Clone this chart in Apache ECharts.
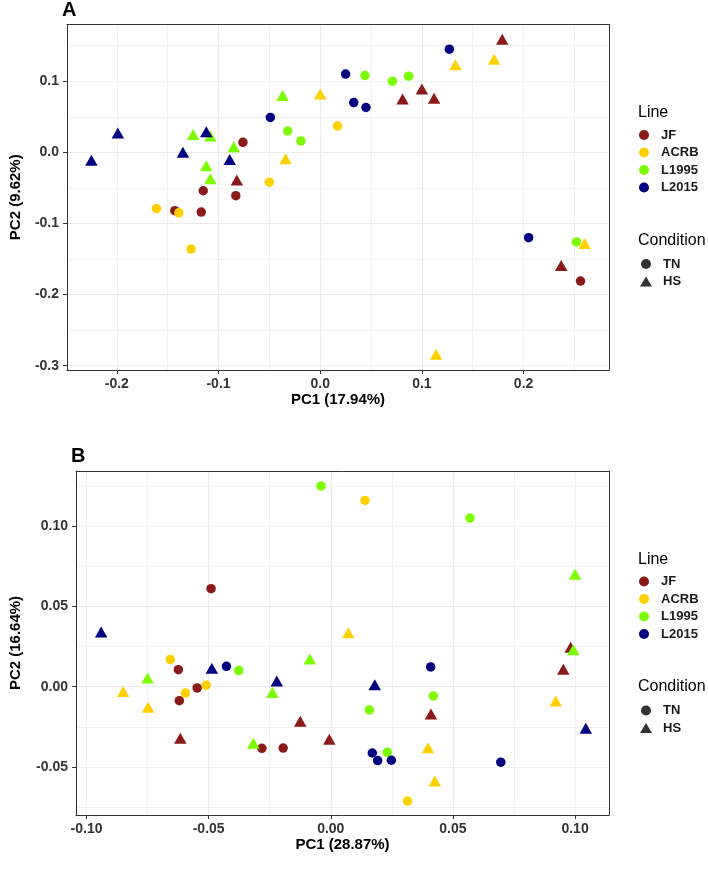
<!DOCTYPE html>
<html>
<head>
<meta charset="utf-8">
<script src="https://cdn.jsdelivr.net/npm/echarts@6/dist/echarts.min.js"></script>
<style>html,body{margin:0;padding:0;background:#fff;}#chart{width:708px;height:869px;}</style>
</head>
<body>
<div id="chart"></div>
<script>
// ---- categories ----
const lines = ['JF', 'ACRB', 'L1995', 'L2015'];
const conditions = ['TN', 'HS'];

// ---- Panel A values [PC1, PC2] ----
const A_JF_TN = [[-0.076,0.014],[-0.115,-0.054],[-0.083,-0.061],[-0.143,-0.082],[-0.117,-0.084],[0.256,-0.181]];
const A_JF_HS = [[-0.082,-0.039],[0.179,0.159],[0.100,0.089],[0.081,0.075],[0.112,0.076],[0.237,-0.159]];
const A_ACRB_TN = [[0.017,0.037],[-0.050,-0.042],[-0.161,-0.079],[-0.139,-0.085],[-0.127,-0.136]];
const A_ACRB_HS = [[0.000,0.082],[-0.034,-0.009],[0.171,0.131],[0.133,0.123],[0.260,-0.128],[0.114,-0.284]];
const A_L1995_TN = [[-0.032,0.030],[-0.019,0.016],[0.044,0.108],[0.071,0.100],[0.087,0.107],[0.252,-0.126]];
const A_L1995_HS = [[-0.037,0.080],[-0.125,0.025],[-0.108,0.023],[-0.085,0.008],[-0.112,-0.019],[-0.108,-0.037]];
const A_L2015_TN = [[0.025,0.110],[0.033,0.070],[-0.049,0.049],[0.127,0.145],[0.045,0.063],[0.205,-0.120]];
const A_L2015_HS = [[-0.199,0.027],[-0.225,-0.011],[-0.112,0.029],[-0.135,0.000],[-0.089,-0.010]];

// ---- Panel B values [PC1, PC2] ----
const B_JF_TN = [[-0.049,0.061],[-0.0624,0.0106],[-0.0547,-0.0008],[-0.062,-0.0087],[-0.0282,-0.0384],[-0.0195,-0.0382]];
const B_JF_HS = [[-0.0125,-0.0216],[-0.0006,-0.0328],[-0.0616,-0.0321],[0.0982,0.0245],[0.0952,0.0108],[0.041,-0.017]];
const B_ACRB_TN = [[0.014,0.116],[-0.0657,0.017],[-0.0595,-0.004],[-0.051,0.0009],[0.0314,-0.0712]];
const B_ACRB_HS = [[0.0072,0.0336],[-0.085,-0.003],[-0.0748,-0.0128],[0.0921,-0.0089],[0.0398,-0.038],[0.0426,-0.0587]];
const B_L1995_TN = [[-0.004,0.125],[0.057,0.105],[-0.0377,0.010],[0.042,-0.0058],[0.0158,-0.0145],[0.0231,-0.0409]];
const B_L1995_HS = [[0.100,0.070],[-0.075,0.0054],[-0.0239,-0.0037],[-0.0086,0.0172],[-0.0317,-0.0353],[0.0993,0.023]];
const B_L2015_TN = [[-0.0427,0.0127],[0.0409,0.0123],[0.017,-0.0413],[0.0192,-0.046],[0.0248,-0.0458],[0.0696,-0.047]];
const B_L2015_HS = [[-0.094,0.034],[-0.0487,0.0115],[-0.0221,0.0035],[0.018,0.0012],[0.1044,-0.0259]];

// ---- tick labels ----
const xTicksA = [-0.2, -0.1, 0, 0.1, 0.2];
const yTicksA = [-0.3, -0.2, -0.1, 0, 0.1];
const xTicksB = [-0.1, -0.05, 0, 0.05, 0.1];
const yTicksB = [-0.05, 0, 0.05, 0.1];

// ---- axis limits ----
const xRangeA = [-0.249, 0.284];
const yRangeA = [-0.306, 0.1797];
const xRangeB = [-0.1043, 0.1139];
const yRangeB = [-0.0799, 0.1343];

const axisTitles = {
  A: ['PC1 (17.94%)', 'PC2 (9.62%)'],
  B: ['PC1 (28.87%)', 'PC2 (16.64%)']
};

// ---- styles ----
const lineColors = {JF: '#8B1A1A', ACRB: '#FFD000', L1995: '#7CFC00', L2015: '#000080'};
const FONT = "'Liberation Sans', Arial, sans-serif";
const panelData = {
  A: {JF: [A_JF_TN, A_JF_HS], ACRB: [A_ACRB_TN, A_ACRB_HS], L1995: [A_L1995_TN, A_L1995_HS], L2015: [A_L2015_TN, A_L2015_HS]},
  B: {JF: [B_JF_TN, B_JF_HS], ACRB: [B_ACRB_TN, B_ACRB_HS], L1995: [B_L1995_TN, B_L1995_HS], L2015: [B_L2015_TN, B_L2015_HS]}
};

const grids = [
  {left: 62, top: 24.5, width: 547, height: 345.5},
  {left: 70.7, top: 471, width: 538.3, height: 344}
];

function labelAxisX(range, ticks, dec, name) {
  return {
    type: 'value', position: 'bottom', min: range[0], max: range[1],
    minInterval: 0.1, maxInterval: 0.1,
    name: name, nameLocation: 'middle', nameGap: 22,
    nameTextStyle: {fontFamily: FONT, fontSize: 15, fontWeight: 'bold', color: '#000'},
    axisLine: {show: true, onZero: false, lineStyle: {color: '#333', width: 1}},
    axisTick: {show: true, length: 4, customValues: ticks, lineStyle: {color: '#333', width: 1}},
    axisLabel: {show: true, customValues: ticks, margin: 7, fontFamily: FONT, fontSize: 14, fontWeight: 'bold', color: '#333',
      formatter: v => Number(v).toFixed(dec)},
    splitLine: {show: true, showMinLine: false, showMaxLine: false, lineStyle: {color: '#EBEBEB', width: 1.2}}
  };
}
function labelAxisY(range, ticks, dec, name, gap) {
  return {
    type: 'value', position: 'left', min: range[0], max: range[1],
    minInterval: 0.1, maxInterval: 0.1,
    name: name, nameLocation: 'middle', nameGap: gap,
    nameTextStyle: {fontFamily: FONT, fontSize: 15, fontWeight: 'bold', color: '#000'},
    axisLine: {show: true, onZero: false, lineStyle: {color: '#333', width: 1}},
    axisTick: {show: true, length: 4, customValues: ticks, lineStyle: {color: '#333', width: 1}},
    axisLabel: {show: true, customValues: ticks, margin: 8, fontFamily: FONT, fontSize: 14, fontWeight: 'bold', color: '#333',
      formatter: v => Number(v).toFixed(dec)},
    splitLine: {show: true, showMinLine: false, showMaxLine: false, lineStyle: {color: '#EBEBEB', width: 1.2}}
  };
}
function gridAxis(pos, range, step) {
  return {
    type: 'value', position: pos, min: range[0], max: range[1],
    minInterval: step, maxInterval: step,
    axisLine: {show: true, onZero: false, lineStyle: {color: '#333', width: 1}},
    axisTick: {show: false}, axisLabel: {show: false},
    splitLine: {show: true, showMinLine: false, showMaxLine: false, lineStyle: {color: '#EBEBEB', width: 0.7}}
  };
}

const xAxes = [
  labelAxisX(xRangeA, xTicksA, 1, axisTitles.A[0]),
  gridAxis('top', xRangeA, 0.05),
  labelAxisX(xRangeB, xTicksB, 2, axisTitles.B[0]),
  gridAxis('top', xRangeB, 0.025)
];
xAxes[0].gridIndex = 0; xAxes[1].gridIndex = 0; xAxes[2].gridIndex = 1; xAxes[3].gridIndex = 1;
const yAxes = [
  labelAxisY(yRangeA, yTicksA, 1, axisTitles.A[1], 44),
  gridAxis('right', yRangeA, 0.05),
  labelAxisY(yRangeB, yTicksB, 2, axisTitles.B[1], 53),
  gridAxis('right', yRangeB, 0.025)
];
yAxes[0].gridIndex = 0; yAxes[1].gridIndex = 0; yAxes[2].gridIndex = 1; yAxes[3].gridIndex = 1;

const series = [];
['A', 'B'].forEach((p, g) => {
  lines.forEach(L => {
    const [tn, hs] = panelData[p][L];
    const data = tn.map(d => ({value: d, symbol: 'circle', symbolSize: 9.5}))
      .concat(hs.map(d => ({value: d, symbol: 'triangle', symbolSize: [12.5, 11]})));
    series.push({
      type: 'scatter', name: L, xAxisIndex: 2 * g, yAxisIndex: 2 * g,
      itemStyle: {color: lineColors[L], opacity: 1},
      emphasis: {disabled: true},
      data: data
    });
  });
});
// condition-only entries for the legend (shape key)
conditions.forEach(c => series.push({type: 'scatter', name: c, xAxisIndex: 0, yAxisIndex: 0,
  symbol: c === 'TN' ? 'circle' : 'triangle', itemStyle: {color: '#000'}, data: []}));

function lineLegend(top) {
  return {
    orient: 'vertical', left: 639, top: top, padding: 0, itemGap: 4.5,
    itemWidth: 14, itemHeight: 10, selectedMode: false,
    textStyle: {fontFamily: FONT, fontSize: 13, fontWeight: 'bold', color: '#1a1a1a', padding: [0, 0, 0, 5]},
    data: lines.map(L => ({name: L, icon: 'circle'}))
  };
}
function condLegend(top) {
  return {
    orient: 'vertical', left: 640, top: top, padding: 0, itemGap: 4.5,
    itemWidth: 12, itemHeight: 10, selectedMode: false,
    textStyle: {fontFamily: FONT, fontSize: 13, fontWeight: 'bold', color: '#1a1a1a', padding: [0, 0, 0, 6]},
    data: [{name: 'TN', icon: 'circle', itemStyle: {color: '#000'}}, {name: 'HS', icon: 'triangle', itemStyle: {color: '#000'}}]
  };
}
function heading(text, left, top, size, weight) {
  return {text: text, left: left, top: top, padding: 0,
    textStyle: {fontFamily: FONT, fontSize: size, fontWeight: weight, color: '#000'}};
}

const option = {
  animation: false,
  backgroundColor: '#fff',
  title: [
    heading('A', 62, 0, 20, 'bold'),
    heading('B', 71, 446, 20, 'bold'),
    heading('Line', 638, 105, 16, 'normal'),
    heading('Condition', 638, 232.5, 16, 'normal'),
    heading('Line', 638, 551.5, 16, 'normal'),
    heading('Condition', 638, 679, 16, 'normal')
  ],
  legend: [lineLegend(128.5), condLegend(257.5), lineLegend(575), condLegend(704)],
  grid: grids.map(g => Object.assign({containLabel: false}, g)),
  xAxis: xAxes,
  yAxis: yAxes,
  series: series
};

const chart = echarts.init(document.getElementById('chart'), null, {renderer: 'canvas'});
chart.setOption(option);
</script>
</body>
</html>
